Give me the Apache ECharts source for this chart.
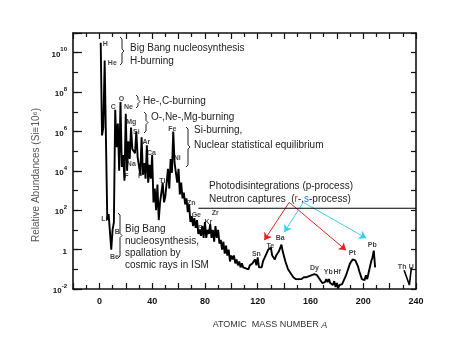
<!DOCTYPE html>
<html>
<head>
<meta charset="utf-8">
<script src="https://cdn.jsdelivr.net/npm/echarts@6/dist/echarts.min.js"></script>
<style>
html, body { margin: 0; padding: 0; background: #fff; }
#chart { width: 463px; height: 359px; }
</style>
</head>
<body>
<div id="chart"></div>
<script>
// log10 of relative abundance (Si = 10^6) per mass number A
// null = no stable nucleus at that A
const lightStart = 1
const logLight = [
  10.5, 5.8, 6.2, 9.6, null, 1.5, 1.8, null, 0.0, 1.0,
  1.4, 7.1, 5.2, 6.4, 4.0, 7.5, 4.2, 4.8, 3.5, 6.9,
  4.0, 5.5, 4.6, 6.2, 5.1, 5.2, 4.9, 6.0, 4.7, 4.6,
  3.8, 5.7, 3.8, 4.4, 3.6, 5.3, 3.4, 4.3, 3.6, 4.8,
  2.4, 3.1, 2.0, 3.3, 1.5, 2.4, 2.3, 3.4, 2.4, 2.7,
  2.6, 4.1, 3.1, 4.6, 3.9, 6.0, 4.4, 4.5, 3.4, 4.1
]
const midStart = 61
const logMid = [
  2.8, 3.4, 2.6, 2.9, 2.3, 2.6, 1.9, 2.3, 1.4, 1.7,
  1.2, 1.6, 1.1, 1.5, 0.8, 1.0, 0.7, 1.2, 0.6, 1.4,
  0.6, 1.0, 0.8, 1.3, 0.6, 1.0, 0.4, 1.2, 0.6, 1.0,
  0.3, 0.5, 0.0, 0.4, -0.2, 0.2, -0.3, 0.0, -0.6, -0.3,
  -0.5, -0.3, -0.7, -0.5, -0.8, -0.6, -0.9, -0.7, -0.9, -0.8,
  -0.95, -0.9, -1.0, -0.8, -0.9, -0.7, -0.8, -0.5, -0.8, -0.4,
  -0.9, -0.8, -0.9, -0.6, -0.6, -0.3, -0.2, 0.0, -0.1, 0.1,
  -0.3, -0.2, -0.5, -0.3, -0.2, -0.1, 0.0, 0.25, -0.1, 0.0
]
const heavyStart = 141
const logHeavy = [
  -0.6, -0.5, -1.0, -0.9, -1.2, -1.3, -1.4, -1.5, -1.5, -1.4,
  -1.5, -1.4, -1.5, -1.4, -1.4, -1.3, -1.4, -1.3, -1.35, -1.3,
  -1.3, -1.25, -1.25, -1.2, -1.3, -1.4, -1.5, -1.45, -1.7, -1.6,
  -1.65, -1.5, -1.65, -1.5, -1.7, -1.6, -1.8, -1.6, -1.9, -1.7,
  -1.95, -1.8, -1.9, -1.75, -1.6, -1.5, -1.3, -1.1, -0.9, -0.7,
  -0.6, -0.5, -0.55, -0.55, -0.6, -0.85, -1.1, -1.2, -1.5, -1.4,
  -1.55, -1.3, -1.5, -1.2, -1.3, -0.6, -0.4, -0.05, -0.9
]
// Th / U marks
const actinideA = [231, 235, 236.5]
const actinideLog = [-1.05, -1.8, -0.9]

// level of the p-process line and its span in A
const pLineLog = 2.1
const pLineA = [75, 240]

// r- and s-process arrows: [fromA, fromLog, toA, toLog]
const rArrows = [[143.9, 2.4, 125, 0.48], [143.9, 2.4, 187, -0.03]]
const sArrows = [[154.5, 2.4, 140.2, 0.89], [154.5, 2.4, 202.3, 0.58]]

// element tags: [name, A, log]
const elementTags = [
  ['H', 4.5, 10.46], ['He', 9.8, 9.49], ['C', 10.6, 7.22], ['O', 16.7, 7.62],
  ['Ne', 22, 7.22], ['Mg', 24.2, 6.46], ['Si', 28, 5.95], ['Ar', 35.6, 5.44],
  ['Ca', 39.4, 4.89], ['Na', 24.2, 4.33], ['F', 20.5, 3.72], ['P', 31, 3.72],
  ['Ti', 47.7, 3.47], ['Fe', 55.3, 6.1], ['Ni', 59, 4.63], ['Zn', 69.7, 2.35],
  ['Ge', 73.5, 1.75], ['Se', 78, 1.09], ['Kr', 82.6, 1.39], ['Zr', 87.9, 1.85],
  ['Sn', 119, -0.23], ['Te', 129.5, 0.18], ['Ba', 137, 0.58], ['Dy', 163, -0.94],
  ['Yb', 173.5, -1.14], ['Hf', 180.3, -1.14], ['Pt', 191.7, -0.18], ['Pb', 206.8, 0.23],
  ['Th', 229.5, -0.89], ['U', 236.4, -0.89], ['Li', 3.8, 1.54], ['B', 13.6, 0.89],
  ['Be', 11.4, -0.38]
]

const curve = []
const addRange = (start, arr) => {
  arr.forEach((v, i) => { if (v !== null) curve.push([start + i, v]) })
}
addRange(lightStart, logLight)
addRange(midStart, logMid)
addRange(heavyStart, logHeavy)

const font = 'Liberation Sans, Arial, sans-serif'
const ink = '#111'

const xBase = {
  type: 'value', min: -20, max: 240, interval: 20,
  axisLine: { onZero: false, lineStyle: { color: ink, width: 1.6 } },
  axisTick: { inside: true, length: 6, lineStyle: { color: ink, width: 1.2 } },
  minorTick: { show: true, splitNumber: 2, length: 4, lineStyle: { color: ink, width: 1.2 } },
  splitLine: { show: false }
}
const yBase = {
  type: 'value', min: -2, max: 11,
  axisLine: { show: true, onZero: false, lineStyle: { color: ink, width: 1.6 } },
  splitLine: { show: false }
}

const brace = (x, y1, y2) => {
  const m = (y1 + y2) / 2
  return {
    type: 'polyline',
    shape: { points: [[x, y1], [x + 2, y1 + 2], [x + 2, m - 2], [x + 4, m], [x + 2, m + 2], [x + 2, y2 - 2], [x, y2]] },
    style: { stroke: '#222', lineWidth: 1, fill: null }
  }
}
const note = (x, y, text) => ({
  type: 'text', x: x, y: y,
  style: { text: text, fontSize: 10, fill: '#222', fontFamily: font, verticalAlign: 'middle' }
})

const chart = echarts.init(document.getElementById('chart'))

const arrowLines = (arr) => arr.map(a => ({ coords: [[a[0], a[1]], [a[2], a[3]]] }))

const option = {
  animation: false,
  grid: { left: 73, right: 47, top: 33, bottom: 70 },
  xAxis: [
    {
      ...xBase, position: 'bottom',
      axisLabel: {
        margin: 8, fontSize: 9, fontWeight: 'bold', color: ink, fontFamily: font,
        formatter: v => (v >= 0 && v % 40 === 0) ? String(v) : ''
      }
    },
    { ...xBase, position: 'top', axisLabel: { show: false } }
  ],
  yAxis: [
    {
      ...yBase, position: 'left', interval: 2,
      axisTick: { inside: true, length: 9, lineStyle: { color: ink, width: 1.2 } },
      axisLabel: {
        margin: 6, color: ink, fontFamily: font,
        formatter: v => v > 10 ? '' : (v === 0 ? '{b|1}' : '{b|10}{s|' + v + '}'),
        rich: {
          b: { fontSize: 8, fontWeight: 'bold', fontFamily: font, color: ink, lineHeight: 12, verticalAlign: 'bottom' },
          s: { fontSize: 6, fontWeight: 'bold', fontFamily: font, color: ink, lineHeight: 12, verticalAlign: 'top' }
        }
      }
    },
    {
      ...yBase, position: 'left', interval: 1,
      axisLine: { show: false, onZero: false },
      axisTick: { inside: true, length: 5, lineStyle: { color: ink, width: 1.2 } },
      axisLabel: { show: false }
    },
    {
      ...yBase, position: 'right', interval: 1,
      axisTick: { inside: true, length: 5, lineStyle: { color: ink, width: 1.2 } },
      axisLabel: { show: false }
    }
  ],
  series: [
    {
      type: 'line', data: curve, showSymbol: false, silent: true,
      lineStyle: { color: '#000', width: 1.9 }
    },
    {
      type: 'line', data: actinideA.map((a, i) => [a, actinideLog[i]]), showSymbol: false, silent: true,
      lineStyle: { color: '#000', width: 1.6 }
    },
    {
      type: 'line', data: pLineA.map(a => [a, pLineLog]), showSymbol: false, silent: true,
      lineStyle: { color: '#000', width: 1.2 }
    },
    {
      type: 'lines', coordinateSystem: 'cartesian2d', silent: true,
      symbol: ['none', 'arrow'], symbolSize: 7,
      lineStyle: { color: '#e02424', width: 1, opacity: 1 },
      data: arrowLines(rArrows)
    },
    {
      type: 'lines', coordinateSystem: 'cartesian2d', silent: true,
      symbol: ['none', 'arrow'], symbolSize: 7,
      lineStyle: { color: '#3ccfe8', width: 1, opacity: 1 },
      data: arrowLines(sArrows)
    },
    {
      type: 'scatter', symbolSize: 0, silent: true,
      data: elementTags.map(t => ({ name: t[0], value: [t[1], t[2]] })),
      label: {
        show: true, position: 'inside', formatter: '{b}',
        fontSize: 7, fontWeight: 'bold', color: ink, fontFamily: font
      }
    }
  ],
  graphic: [
    brace(120, 37, 65),
    brace(136, 95, 108),
    brace(144, 112, 133),
    brace(186, 127, 167),
    brace(118, 213, 258),
    note(130, 48, 'Big Bang nucleosynthesis'),
    note(130, 61, 'H-burning'),
    note(143, 101, 'He-,C-burning'),
    note(151, 117, 'O-,Ne-,Mg-burning'),
    note(194, 130, 'Si-burning,'),
    note(194, 145, 'Nuclear statistical equilibrium'),
    note(209, 186, 'Photodisintegrations (p-process)'),
    {
      type: 'text', x: 209, y: 199,
      style: {
        text: 'Neutron captures  ({r|r}-,{s|s}-process)',
        fontSize: 10, fill: '#222', fontFamily: font, verticalAlign: 'middle',
        rich: {
          r: { fontSize: 10, fill: '#e02424', fontFamily: font },
          s: { fontSize: 10, fill: '#2f6fd6', fontFamily: font }
        }
      }
    },
    note(125, 229, 'Big Bang'),
    note(125, 241, 'nucleosynthesis,'),
    note(125, 253, 'spallation by'),
    note(125, 265, 'cosmic rays in ISM'),
    {
      type: 'text', x: 36, y: 175, rotation: Math.PI / 2,
      style: {
        text: 'Relative Abundances (Si\u226110\u2076)', fontSize: 10, fill: '#555',
        fontFamily: font, align: 'center', verticalAlign: 'middle'
      }
    },
    {
      type: 'text', x: 270, y: 325,
      style: {
        text: 'ATOMIC  MASS NUMBER {i|A}', fontSize: 9, fill: '#333',
        fontFamily: font, align: 'center', verticalAlign: 'middle',
        rich: { i: { fontSize: 9, fontStyle: 'italic', fill: '#333', fontFamily: font } }
      }
    }
  ]
}

chart.setOption(option)
</script>
</body>
</html>
